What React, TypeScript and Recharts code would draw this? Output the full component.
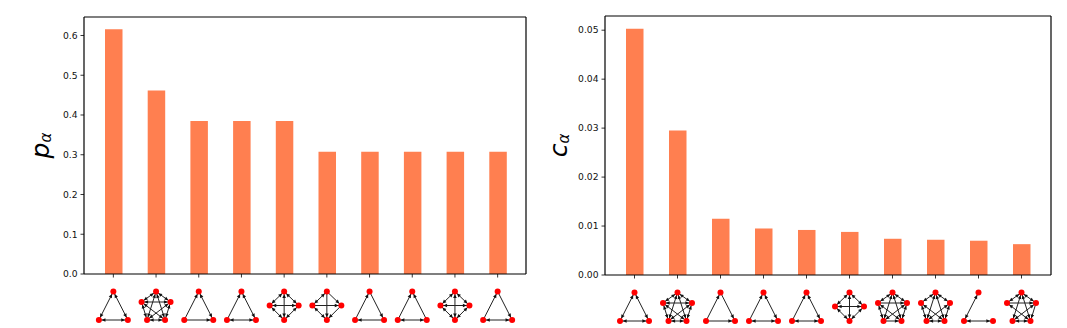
import React from "react";
import { BarChart, Bar, XAxis, YAxis } from "recharts";

const FONT = "'DejaVu Sans', sans-serif";
const BAR_COLOR = "#ff7f50";

// values
const pValues = [0.6154, 0.4615, 0.3846, 0.3846, 0.3846, 0.3077, 0.3077, 0.3077, 0.3077, 0.3077];
const cValues = [0.0503, 0.0295, 0.0115, 0.0095, 0.0092, 0.0088, 0.0074, 0.0072, 0.007, 0.0063];
const pTicks = [0, 0.1, 0.2, 0.3, 0.4, 0.5, 0.6];
const cTicks = [0, 0.01, 0.02, 0.03, 0.04, 0.05];

// motifs: "a-b" = both directions, "a>b" = one direction
const K3 = ["0-1", "0-2", "1-2"];
const K4 = ["0-1", "0-2", "0-3", "1-2", "1-3", "2-3"];
const K5 = ["0-1", "0-2", "0-3", "0-4", "1-2", "1-3", "1-4", "2-3", "2-4", "3-4"];
const pMotifs = [
  { n: 3, e: K3 },
  { n: 5, e: K5 },
  { n: 3, e: ["1>0", "0-2", "1>2"] },
  { n: 3, e: ["1>0", "0-2", "1-2"] },
  { n: 4, e: K4 },
  { n: 4, e: ["0-1", "0>2", "1-3", "2>3", "0>3", "1>2"] },
  { n: 3, e: ["1>0", "0>2", "2>1"] },
  { n: 3, e: ["1>0", "2>0", "1-2"] },
  { n: 4, e: K4 },
  { n: 3, e: ["1>0", "0>2", "1-2"] },
];
const cMotifs = [
  { n: 3, e: K3 },
  { n: 5, e: K5 },
  { n: 3, e: ["1>0", "0>2", "1>2"] },
  { n: 3, e: ["1>0", "0-2", "1-2"] },
  { n: 3, e: ["1>0", "0-2", "1-2"] },
  { n: 4, e: K4 },
  { n: 5, e: ["0-1", "0-2", "0-3", "0-4", "1>2", "1-3", "1-4", "2-3", "2-4", "3>4"] },
  { n: 5, e: ["0-1", "0-2", "0-3", "0-4", "1-3", "1-4", "2-3", "2-4", "3-4"] },
  { n: 3, e: ["1-0", "1-2"] },
  { n: 5, e: ["0-1", "0-2", "0-3", "0-4", "1>2", "1-4", "2-3", "2>4", "3-4"] },
];

// icon node layouts, relative to the top node
const layouts: Record<number, number[][]> = {
  3: [[0, 0], [-14.5, 28.5], [14.5, 28.5]],
  4: [[0, 0], [-14.5, 14], [14.5, 14], [0, 28.5]],
  5: [[0, 0], [-14.5, 10.5], [14.5, 10.5], [-9, 28.5], [9, 28.5]],
};

const pData = pValues.map((v, i) => ({ name: `m${i}`, v }));
const cData = cValues.map((v, i) => ({ name: `m${i}`, v }));

function Arrow({ x1, y1, x2, y2 }: { x1: number; y1: number; x2: number; y2: number }) {
  const dx = x2 - x1;
  const dy = y2 - y1;
  const L = Math.hypot(dx, dy);
  const ux = dx / L;
  const uy = dy / L;
  const tx = x2 - ux * 2.8;
  const ty = y2 - uy * 2.8;
  const bx = tx - ux * 3.8;
  const by = ty - uy * 3.8;
  const w = 1.8;
  return (
    <polygon
      points={`${tx},${ty} ${bx - uy * w},${by + ux * w} ${bx + uy * w},${by - ux * w}`}
      fill="#111"
    />
  );
}

function MotifTick(props: any, motifs: { n: number; e: string[] }[]) {
  const { x, y, index } = props;
  const m = motifs[index];
  if (!m) return <g />;
  const pos = layouts[m.n].map(([a, b]) => [x + a, y + b]);
  return (
    <g>
      {m.e.map((s, i) => {
        const both = s.includes("-");
        const [a, b] = s.split(both ? "-" : ">").map(Number);
        const [x1, y1] = pos[a];
        const [x2, y2] = pos[b];
        return (
          <g key={i}>
            <line x1={x1} y1={y1} x2={x2} y2={y2} stroke="#222" strokeWidth={1} />
            <Arrow x1={x1} y1={y1} x2={x2} y2={y2} />
            {both && <Arrow x1={x2} y1={y2} x2={x1} y2={y1} />}
          </g>
        );
      })}
      {pos.map(([cx, cy], i) => (
        <circle key={i} cx={cx} cy={cy} r={3} fill="#f00" />
      ))}
    </g>
  );
}

function AxisSymbol({ cx, cy, main }: { cx: number; cy: number; main: string }) {
  return (
    <text
      transform={`translate(${cx},${cy}) rotate(-90)`}
      textAnchor="middle"
      fontFamily={FONT}
      fontStyle="italic"
      fill="#000"
    >
      <tspan fontSize={25}>{main}</tspan>
      <tspan fontSize={15} dy={2}>α</tspan>
    </text>
  );
}

type PanelProps = {
  left: number;
  width: number;
  plotLeft: number;
  plotRight: number;
  plotTop: number;
  plotBottom: number;
  data: { name: string; v: number }[];
  motifs: { n: number; e: string[] }[];
  ticks: number[];
  domainMax: number;
  digits: number;
  symbol: string;
  labelX: number;
  pad: { left: number; right: number };
  barSize: number;
};

const SPINE = { stroke: "#000", strokeWidth: 1.2 };
const TICK = { stroke: "#000", strokeWidth: 0.8 };

function Panel(p: PanelProps) {
  const axisW = 40;
  return (
    <div style={{ position: "absolute", left: p.left, top: 0 }}>
      <BarChart
        width={p.width}
        height={328}
        data={p.data}
        margin={{
          left: p.plotLeft - axisW,
          right: p.width - p.plotRight - 1,
          top: p.plotTop - 1,
          bottom: 0,
        }}
      >
        <XAxis
          dataKey="name"
          interval={0}
          height={328 - p.plotBottom}
          padding={p.pad}
          axisLine={SPINE}
          tickLine={TICK}
          tickSize={3.5}
          tickMargin={14}
          tick={(t: any) => MotifTick(t, p.motifs)}
        />
        <XAxis xAxisId="top" orientation="top" dataKey="name" height={1} tick={false} tickLine={false} axisLine={SPINE} />
        <YAxis
          width={axisW}
          domain={[0, p.domainMax]}
          ticks={p.ticks}
          allowDataOverflow
          axisLine={SPINE}
          tickLine={TICK}
          tickSize={3.5}
          tickMargin={3}
          tickFormatter={(v: number) => v.toFixed(p.digits)}
          tick={{ fontSize: 9.2, fontFamily: FONT, fill: "#111" }}
          label={(() => (
            <AxisSymbol cx={p.labelX} cy={(p.plotTop + p.plotBottom) / 2} main={p.symbol} />
          )) as any}
        />
        <YAxis yAxisId="right" orientation="right" width={1} domain={[0, 1]} tick={false} tickLine={false} axisLine={SPINE} />
        <Bar dataKey="v" fill={BAR_COLOR} barSize={p.barSize} isAnimationActive={false} />
      </BarChart>
    </div>
  );
}

export default function App() {
  return (
    <div style={{ position: "absolute", left: 0, top: 0, width: 1067, height: 328, background: "#fff" }}>
      <Panel
        left={0}
        width={540}
        plotLeft={84}
        plotRight={526}
        plotTop={17}
        plotBottom={274}
        data={pData}
        motifs={pMotifs}
        ticks={pTicks}
        domainMax={0.6465}
        digits={1}
        symbol="p"
        labelX={49}
        pad={{ left: 8, right: 7 }}
        barSize={17.5}
      />
      <Panel
        left={540}
        width={527}
        plotLeft={65}
        plotRight={511}
        plotTop={16}
        plotBottom={275}
        data={cData}
        motifs={cMotifs}
        ticks={cTicks}
        domainMax={0.0529}
        digits={2}
        symbol="c"
        labelX={27}
        pad={{ left: 8, right: 8 }}
        barSize={17.5}
      />
    </div>
  );
}
